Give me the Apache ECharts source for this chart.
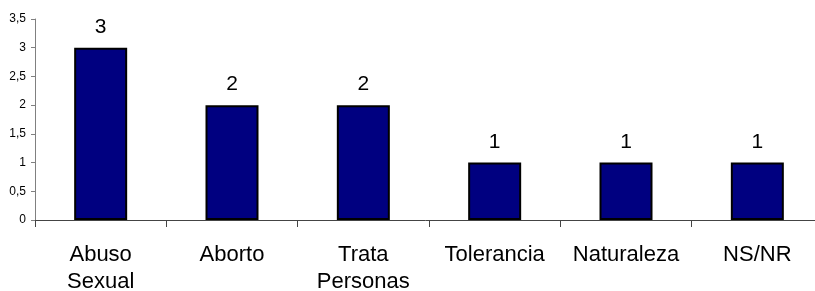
<!DOCTYPE html>
<html>
<head>
<meta charset="utf-8">
<script src="https://cdn.jsdelivr.net/npm/echarts@6/dist/echarts.min.js"></script>
<style>
  html, body { margin: 0; padding: 0; background: #fff; }
  #main { width: 815px; height: 291px; }
</style>
</head>
<body>
<div id="main"></div>
<script>
var categories = ['Abuso\nSexual', 'Aborto', 'Trata\nPersonas', 'Tolerancia', 'Naturaleza', 'NS/NR'];
var values = [3, 2, 2, 1, 1, 1];

var chart = echarts.init(document.getElementById('main'));
chart.setOption({
    animation: false,
    grid: { left: 35, right: -8, top: 19, bottom: 71, outerBoundsMode: 'none', containLabel: false },
    xAxis: {
        type: 'category',
        data: categories,
        axisLine: { lineStyle: { color: '#444', width: 1 } },
        axisTick: { show: true, length: 7, lineStyle: { color: '#444' } },
        axisLabel: {
            color: '#000',
            fontFamily: 'Liberation Sans, Arial',
            fontSize: 22,
            lineHeight: 27,
            margin: 21,
            interval: 0
        }
    },
    yAxis: {
        type: 'value',
        min: 0,
        max: 3.5,
        interval: 0.5,
        axisLine: { show: true, lineStyle: { color: '#808080', width: 1 } },
        axisTick: { show: true, length: 4, lineStyle: { color: '#808080' } },
        splitLine: { show: false },
        axisLabel: {
            color: '#000',
            fontFamily: 'Liberation Sans, Arial',
            fontSize: 12,
            margin: 9,
            formatter: function (v) { return String(v).replace('.', ','); }
        }
    },
    series: [{
        type: 'bar',
        data: values,
        barWidth: 53,
        itemStyle: { color: '#000080', borderColor: '#000', borderWidth: 2 },
        label: {
            show: true,
            position: 'top',
            distance: 10,
            color: '#000',
            fontFamily: 'Liberation Sans, Arial',
            fontSize: 21
        }
    }]
});
</script>
</body>
</html>
